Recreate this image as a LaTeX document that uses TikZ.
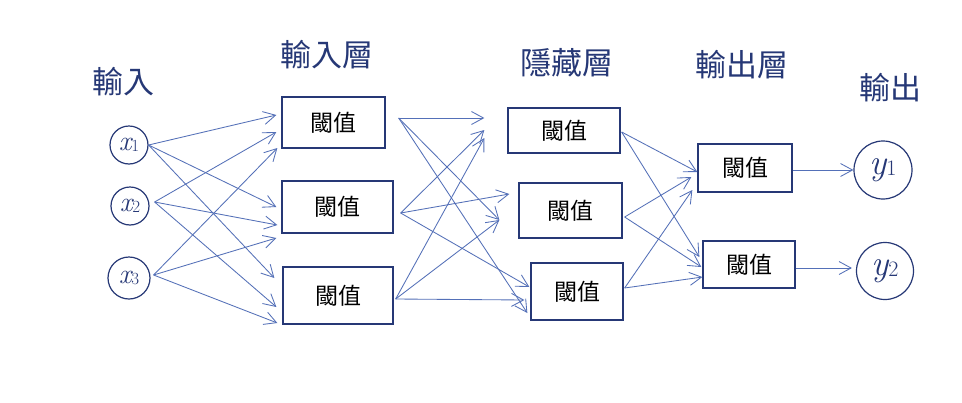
\documentclass[tikz,border=0pt]{standalone}
\usepackage{fontspec}
\newfontfamily\cjk{Noto Sans CJK TC}
\usetikzlibrary{arrows.meta,calc}
\definecolor{arr}{RGB}{84,112,184}
\definecolor{ink}{RGB}{38,56,118}
\newcommand{\nlab}[3]{\textit{#1}\kern-1.5pt\raisebox{-1pt}{\fontsize{#3}{#3}\selectfont #2}}
\begin{document}
\begin{tikzpicture}[x=1pt,y=-1pt,
 box/.style={draw=ink,line width=1.3pt,rectangle,inner sep=0pt,font=\cjk\fontsize{23}{23}\selectfont,text=black},
 neuron/.style={draw=ink,line width=1.2pt,circle,inner sep=0pt,text=ink,font=\fontsize{28}{28}\selectfont},
 lbl/.style={text=ink,font=\cjk\fontsize{31}{31}\selectfont},
 conn/.style={draw=arr,line width=0.85pt,-{Straight Barb[length=12pt,width=13pt]}}]
\useasboundingbox (0,0) rectangle (962,402);
\fill[white] (0,0) rectangle (962,402);

% labels
\node[lbl] (l1) at (123,82) {輸入};
\node[lbl] (l2) at (327,55) {輸入層};
\node[lbl] (l3) at (567,63) {隱藏層};
\node[lbl] (l4) at (742,65) {輸出層};
\node[lbl] (l5) at (890,88) {輸出};

% inputs
\node[neuron,minimum size=38pt] (x1) at (129,145) {\nlab{x}{1}{17}};
\node[neuron,minimum size=38pt] (x2) at (130,206) {\nlab{x}{2}{17}};
\node[neuron,minimum size=42pt] (x3) at (129,278) {\nlab{x}{3}{17}};

% input layer
\node[box,minimum width=103pt,minimum height=51pt] (b1) at (333.5,122.5) {閾值};
\node[box,minimum width=111pt,minimum height=52pt] (b2) at (337.5,207) {閾值};
\node[box,minimum width=110pt,minimum height=57pt] (b3) at (338,295.5) {閾值};

% hidden layer
\node[box,minimum width=112pt,minimum height=45pt] (h1) at (564,130.5) {閾值};
\node[box,minimum width=103pt,minimum height=55pt] (h2) at (570.5,210.5) {閾值};
\node[box,minimum width=92pt,minimum height=57pt] (h3) at (577,291.5) {閾值};

% output layer
\node[box,minimum width=94pt,minimum height=48pt] (o1) at (745,168) {閾值};
\node[box,minimum width=92pt,minimum height=47pt] (o2) at (749,264.5) {閾值};

% outputs
\node[neuron,minimum size=58pt,font=\fontsize{36}{36}\selectfont] (y1) at (883,170) {\nlab{y}{1}{22}};
\node[neuron,minimum size=57pt,font=\fontsize{36}{36}\selectfont] (y2) at (885,271) {\nlab{y}{2}{22}};

% start points
\coordinate (sx1) at (x1.east);
\coordinate (sx2) at ($(x2.east)+(5,-4)$);
\coordinate (sx3) at ($(x3.east)+(3,-3)$);
\coordinate (sb1) at ($(b1.east)+(13,-4.5)$);
\coordinate (sb2) at ($(b2.east)+(7,6)$);
\coordinate (sb3) at ($(b3.east)+(2,3.5)$);
\coordinate (sh1) at ($(h1.east)+(1,1.5)$);
\coordinate (sh2) at ($(h2.east)+(2,6.5)$);
\coordinate (sh3) at ($(h3.east)+(1,-3.5)$);

% inputs -> input layer
\draw[conn] (sx1) -- ($(b1.west)+(-5,-7.5)$);
\draw[conn] (sx2) -- ($(b1.west)+(-5,9.5)$);
\draw[conn] (sx3) -- ($(b1.west)+(-4,25.5)$);
\draw[conn] (sx1) -- ($(b2.west)+(-5,0)$);
\draw[conn] (sx2) -- ($(b2.west)+(-4,18)$);
\draw[conn] (sx3) -- ($(b2.west)+(-5,31)$);
\draw[conn] (sx1) -- ($(b3.west)+(-8,-17.5)$);
\draw[conn] (sx2) -- ($(b3.west)+(-6,11.5)$);
\draw[conn] (sx3) -- ($(b3.west)+(-5,27.5)$);

% input layer -> hidden
\draw[conn] (sb1) -- ($(h1.west)+(-23,-12.5)$);
\draw[conn] (sb2) -- ($(h1.west)+(-23,-0.5)$);
\draw[conn] (sb3) -- ($(h1.west)+(-23,7.5)$);
\draw[conn] (sb1) -- ($(h2.west)+(-19,9.5)$);
\draw[conn] (sb2) -- ($(h2.west)+(-9,-16.5)$);
\draw[conn] (sb3) -- ($(h2.west)+(-19,9.5)$);
\draw[conn] (sb1) -- ($(h3.west)+(-3,21.5)$);
\draw[conn] (sb2) -- ($(h3.west)+(-1,-4.5)$);
\draw[conn] (sb3) -- ($(h3.west)+(-6,8.5)$);

% hidden -> output layer
\draw[conn] (sh1) -- ($(o1.west)+(0,4)$);
\draw[conn] (sh2) -- ($(o1.west)+(-6,9)$);
\draw[conn] (sh3) -- ($(o1.west)+(-5,22)$);
\draw[conn] (sh1) -- ($(o2.west)+(-3,-7.5)$);
\draw[conn] (sh2) -- ($(o2.west)+(-1,2.5)$);
\draw[conn] (sh3) -- ($(o2.west)+(0,12.5)$);

% output layer -> outputs
\draw[conn] ($(o1.east)+(0,2)$) -- (y1.west);
\draw[conn] ($(o2.east)+(0,3.5)$) -- ($(y2.west)+(-4,-3)$);
\end{tikzpicture}
\end{document}
